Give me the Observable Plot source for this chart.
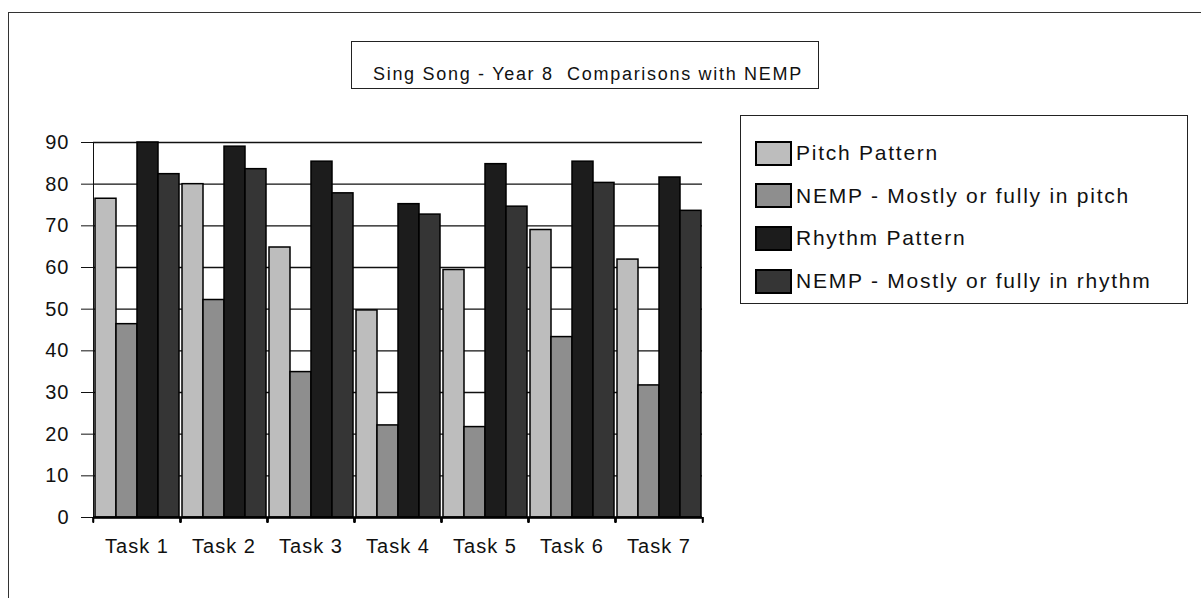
<!DOCTYPE html>
<html>
<head>
<meta charset="utf-8">
<script src="https://cdn.jsdelivr.net/npm/d3@7"></script>
<script src="https://cdn.jsdelivr.net/npm/@observablehq/plot@0.6"></script>
<style>
  html, body { margin: 0; padding: 0; background: #fff; width: 1201px; height: 598px; overflow: hidden; }
  body { position: relative; font-family: "Liberation Sans", Arial, sans-serif; color: #111; }
  #frame { position: absolute; left: 8px; top: 12px; width: 1400px; height: 800px;
           border-left: 1px solid #333; border-top: 1px solid #333; }
  #title { position: absolute; left: 351px; top: 41px; width: 468px; height: 48px;
           border: 1px solid #222; box-sizing: border-box; font-size: 18px; letter-spacing: 1.7px;
           padding-left: 21px; padding-top: 17px; line-height: 30px; white-space: pre; }
  #legend { position: absolute; left: 740px; top: 115px; width: 448px; height: 189px;
            border: 1px solid #222; box-sizing: border-box; }
  .item { position: absolute; left: 14px; height: 28px; display: flex; align-items: center;
          font-size: 21px; letter-spacing: 1.75px; white-space: nowrap; }
  .sw { width: 37px; height: 25px; border: 2px solid #000; box-sizing: border-box; margin-right: 4px; }
  #chart { position: absolute; left: 30px; top: 120px; }
  #chart svg { letter-spacing: 1px; }
</style>
</head>
<body>
<div id="frame"></div>
<div id="title"></div>
<div id="legend"></div>
<div id="chart"></div>
<script>
// ---- data ----
const titleText = "Sing Song - Year 8  Comparisons with NEMP";
const tasks = ["Task 1", "Task 2", "Task 3", "Task 4", "Task 5", "Task 6", "Task 7"];
const series = ["Pitch Pattern", "NEMP - Mostly or fully in pitch", "Rhythm Pattern", "NEMP - Mostly or fully in rhythm"];
const pitchPattern = [76.5, 80, 64.8, 49.7, 59.4, 69, 61.9];
const nempPitch = [46.4, 52.2, 34.9, 22.1, 21.7, 43.3, 31.7];
const rhythmPattern = [90, 89, 85.4, 75.2, 84.8, 85.4, 81.6];
const nempRhythm = [82.4, 83.6, 77.8, 72.7, 74.6, 80.3, 73.6];
const yTicks = [0, 10, 20, 30, 40, 50, 60, 70, 80, 90];
const colors = ["#bdbdbd", "#8e8e8e", "#1c1c1c", "#353535"];

// ---- table ----
const valuesBySeries = [pitchPattern, nempPitch, rhythmPattern, nempRhythm];
const rows = [];
series.forEach((s, i) => tasks.forEach((t, j) => rows.push({task: t, series: s, value: valuesBySeries[i][j]})));

// ---- title & legend ----
document.getElementById("title").textContent = titleText;
const legend = document.getElementById("legend");
series.forEach((s, i) => {
  const it = document.createElement("div");
  it.className = "item";
  it.style.top = (23 + i * 42.7) + "px";
  const sw = document.createElement("div");
  sw.className = "sw";
  sw.style.background = colors[i];
  const tx = document.createElement("span");
  tx.textContent = s;
  it.appendChild(sw); it.appendChild(tx);
  legend.appendChild(it);
});

// ---- chart ----
const W = 700, H = 460, mL = 60, mR = 25, mT = 22, mB = 63;
const padOuter = 0.07;
const facetW = (W - mL - mR) / tasks.length;
const step = facetW / (series.length + 2 * padOuter);

const chart = Plot.plot({
  width: W, height: H,
  marginLeft: mL, marginRight: mR, marginTop: mT, marginBottom: mB,
  style: {fontFamily: "Liberation Sans, Arial, sans-serif", fontSize: "20px", color: "#111", background: "transparent"},
  facet: {data: rows, x: "task"},
  fx: {domain: tasks, padding: 0, axis: "bottom", tickSize: 0, tickPadding: 21, label: null},
  x: {domain: series, paddingInner: 0, paddingOuter: padOuter, axis: null},
  y: {domain: [0, 90], ticks: yTicks, tickSize: 12, tickPadding: 12, label: null, line: true},
  color: {domain: series, range: colors},
  marks: [
    Plot.ruleY(yTicks, {stroke: "#111", strokeWidth: 1.3}),
    Plot.barY(rows, {x: "series", y: "value", fill: "series", stroke: "#000", strokeWidth: 1.5}),
    Plot.barY(tasks, {x: () => series[0], y1: 0, y2: -1.3, fill: "#000",
      insetRight: step - 1.5, dx: -padOuter * step - 0.75}),
    Plot.barY(tasks, {x: () => series[3], y1: 0, y2: -1.3, fill: "#000",
      insetLeft: step - 1.5, dx: padOuter * step + 0.75}),
    Plot.ruleY([0], {stroke: "#000", strokeWidth: 2.5})
  ]
});
document.getElementById("chart").appendChild(chart);
</script>
</body>
</html>
